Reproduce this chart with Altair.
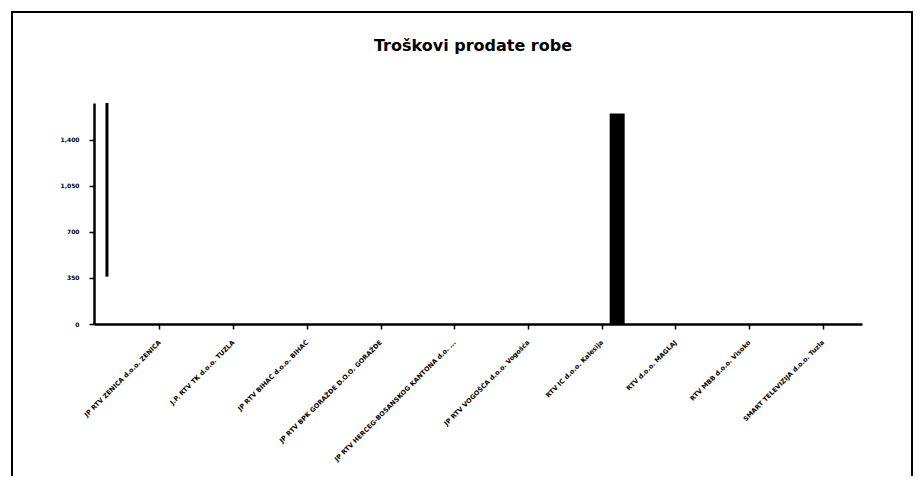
import altair as alt
import pandas as pd

categories = [
    "JP RTV ZENICA d.o.o. ZENICA",
    "J.P. RTV TK d.o.o. TUZLA",
    "JP RTV BIHAĆ d.o.o. BIHAĆ",
    "JP RTV BPK GORAŽDE D.O.O. GORAŽDE",
    "JP RTV HERCEG-BOSANSKOG KANTONA d.o. ...",
    "JP RTV VOGOŠĆA d.o.o. Vogošća",
    "RTV IC d.o.o. Kalesija",
    "RTV d.o.o. MAGLAJ",
    "RTV MBB d.o.o. Visoko",
    "SMART TELEVIZIJA d.o.o. Tuzla",
]
values = [0, 0, 0, 0, 0, 0, 1600, 0, 0, 0]

line_category = ["JP RTV ZENICA d.o.o. ZENICA"]
line_low = [360]
line_high = [1680]

y_ticks = [0, 350, 700, 1050, 1400]
y_max = 1680
title_text = ["Troškovi prodate robe"]

df = pd.DataFrame({"kategorija": categories, "vrijednost": values})
line_df = pd.DataFrame({"kategorija": line_category, "lo": line_low, "hi": line_high})
title_df = pd.DataFrame({"t": title_text})

W, H = 768, 221
FONT = "DejaVu Sans"

x_enc = alt.X(
    "kategorija:N",
    sort=categories,
    title=None,
    scale=alt.Scale(paddingInner=0, paddingOuter=0.21, align=0.94),
    axis=alt.Axis(
        labelAngle=-45,
        labelAlign="right",
        labelBaseline="middle",
        labelFont=FONT,
        labelFontWeight="bold",
        labelFontSize=6.5,
        labelColor="black",
        labelPadding=12,
        labelLimit=300,
        tickColor="black",
        tickSize=5,
        tickWidth=1.5,
        domainColor="black",
        domainWidth=2.5,
        grid=False,
    ),
)

y_scale = alt.Scale(domain=[0, y_max], nice=False)

bars = alt.Chart(df).mark_bar(color="black", width=15, xOffset=15).encode(
    x=x_enc,
    y=alt.Y(
        "vrijednost:Q",
        title=None,
        scale=y_scale,
        axis=alt.Axis(
            values=y_ticks,
            format=",.0f",
            labelFont=FONT,
            labelFontWeight="bold",
            labelFontSize=6,
            labelColor="black",
            labelPadding=10,
            tickColor="black",
            tickSize=5,
            tickWidth=1.5,
            domainColor="black",
            domainWidth=2.5,
            grid=False,
        ),
    ),
)

line = alt.Chart(line_df).mark_rule(color="black", strokeWidth=3, xOffset=-53).encode(
    x=alt.X("kategorija:N", sort=categories),
    y=alt.Y("lo:Q", scale=y_scale),
    y2="hi:Q",
)

title = alt.Chart(title_df).mark_text(
    font=FONT, fontSize=16, fontWeight="bold", color="black",
    align="center", baseline="alphabetic",
).encode(
    text="t:N",
    x=alt.value(379),
    y=alt.value(-52),
)

frame = alt.Chart(alt.Data(values=[{"a": 1}])).mark_rect(
    fillOpacity=0, stroke="black", strokeWidth=2
).encode(
    x=alt.value(-82),
    x2=alt.value(818),
    y=alt.value(-91),
    y2=alt.value(376),
)

chart = alt.layer(bars, line, title, frame).properties(
    width=W,
    height=H,
    background="white",
    padding={"left": 86, "top": 95, "right": 54, "bottom": 152},
    autosize=alt.AutoSizeParams(type="none"),
).configure_view(stroke=None, strokeWidth=0)

chart.save("out.html", embed_options={"renderer": "svg", "actions": False})
